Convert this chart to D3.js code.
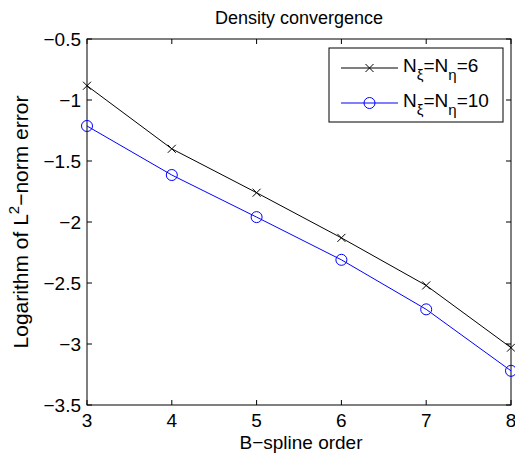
<!DOCTYPE html>
<html>
<head>
<meta charset="utf-8">
<script src="https://cdn.jsdelivr.net/npm/d3@7"></script>
<style>
  body { margin: 0; background: #fff; }
  text { font-family: "Liberation Sans", Arial, sans-serif; fill: #000; }
</style>
</head>
<body>
<svg id="chart" width="515" height="456"></svg>
<script>
// Data
const orders = [3, 4, 5, 6, 7, 8];
const err6 = [-0.883, -1.40, -1.76, -2.13, -2.52, -3.03];
const err10 = [-1.213, -1.615, -1.96, -2.31, -2.716, -3.22];
const xTicks = [3, 4, 5, 6, 7, 8];
const yTicks = [-3.5, -3, -2.5, -2, -1.5, -1, -0.5];

const svg = d3.select("#chart");
const m = { left: 87, right: 511, top: 39, bottom: 405 };

const x = d3.scaleLinear().domain([3, 8]).range([m.left, m.right]);
const y = d3.scaleLinear().domain([-3.5, -0.5]).range([m.bottom, m.top]);
const fmt = d => String(d).replace("-", "\u2212");

// Frame
svg.append("rect")
    .attr("x", m.left).attr("y", m.top)
    .attr("width", m.right - m.left).attr("height", m.bottom - m.top)
    .attr("fill", "none").attr("stroke", "#000").attr("stroke-width", 1);

// Inward ticks on all four sides
const tl = 5;
const axes = svg.append("g").attr("stroke", "#000").attr("stroke-width", 1);
xTicks.forEach(t => {
    axes.append("line").attr("x1", x(t)).attr("x2", x(t)).attr("y1", m.bottom).attr("y2", m.bottom - tl);
    axes.append("line").attr("x1", x(t)).attr("x2", x(t)).attr("y1", m.top).attr("y2", m.top + tl);
});
yTicks.forEach(t => {
    axes.append("line").attr("x1", m.left).attr("x2", m.left + tl).attr("y1", y(t)).attr("y2", y(t));
    axes.append("line").attr("x1", m.right).attr("x2", m.right - tl).attr("y1", y(t)).attr("y2", y(t));
});

// Tick labels
svg.selectAll(".xl").data(xTicks).enter().append("text")
    .attr("x", d => x(d)).attr("y", m.bottom + 22)
    .attr("text-anchor", "middle").attr("font-size", 19)
    .text(fmt);
svg.selectAll(".yl").data(yTicks).enter().append("text")
    .attr("x", m.left - 6).attr("y", d => y(d) + 6.5)
    .attr("text-anchor", "end").attr("font-size", 19)
    .text(fmt);

// Titles
svg.append("text").attr("x", (m.left + m.right) / 2).attr("y", 24)
    .attr("text-anchor", "middle").attr("font-size", 18).text("Density convergence");
svg.append("text").attr("x", (m.left + m.right) / 2 + 2).attr("y", 449)
    .attr("text-anchor", "middle").attr("font-size", 19).text("B\u2212spline order");
const yl = svg.append("text")
    .attr("transform", `translate(28,${(m.top + m.bottom) / 2}) rotate(-90)`)
    .attr("text-anchor", "middle").attr("font-size", 21);
yl.append("tspan").text("Logarithm of L");
yl.append("tspan").attr("dy", -9).attr("font-size", 15).text("2");
yl.append("tspan").attr("dy", 9).text("\u2212norm error");

// Series
const line = d3.line().x((d, i) => x(orders[i])).y(d => y(d));
svg.append("path").datum(err6).attr("d", line)
    .attr("fill", "none").attr("stroke", "#000").attr("stroke-width", 1);
svg.append("path").datum(err10).attr("d", line)
    .attr("fill", "none").attr("stroke", "#0000ff").attr("stroke-width", 1);

const cross = (g, cx, cy, s) => {
    g.append("path")
        .attr("d", `M${cx - s},${cy - s}L${cx + s},${cy + s}M${cx - s},${cy + s}L${cx + s},${cy - s}`)
        .attr("stroke", "#000").attr("stroke-width", 1).attr("fill", "none");
};
const marks = svg.append("g");
err6.forEach((v, i) => cross(marks, x(orders[i]), y(v), 4));
err10.forEach((v, i) => {
    marks.append("circle").attr("cx", x(orders[i])).attr("cy", y(v)).attr("r", 5.5)
        .attr("fill", "none").attr("stroke", "#0000ff").attr("stroke-width", 1);
});

// Legend
const lg = svg.append("g");
lg.append("rect").attr("x", 329).attr("y", 48).attr("width", 174).attr("height", 74)
    .attr("fill", "#fff").attr("stroke", "#000").attr("stroke-width", 1);
const rows = [
    { y: 68, color: "#000", mark: "x", n: "6" },
    { y: 103, color: "#0000ff", mark: "o", n: "10" }
];
rows.forEach(r => {
    lg.append("line").attr("x1", 341).attr("x2", 398).attr("y1", r.y).attr("y2", r.y)
        .attr("stroke", r.color).attr("stroke-width", 1);
    if (r.mark === "x") cross(lg, 369.5, r.y, 4);
    else lg.append("circle").attr("cx", 369.5).attr("cy", r.y).attr("r", 5.5)
        .attr("fill", "none").attr("stroke", r.color).attr("stroke-width", 1);
    const t = lg.append("text").attr("x", 403).attr("y", r.y + 4).attr("font-size", 19);
    t.append("tspan").text("N");
    t.append("tspan").attr("dy", 8).attr("font-size", 15).text("\u03be");
    t.append("tspan").attr("dy", -8).text("=N");
    t.append("tspan").attr("dy", 8).attr("font-size", 15).text("\u03b7");
    t.append("tspan").attr("dy", -8).text("=" + r.n);
});
</script>
</body>
</html>
